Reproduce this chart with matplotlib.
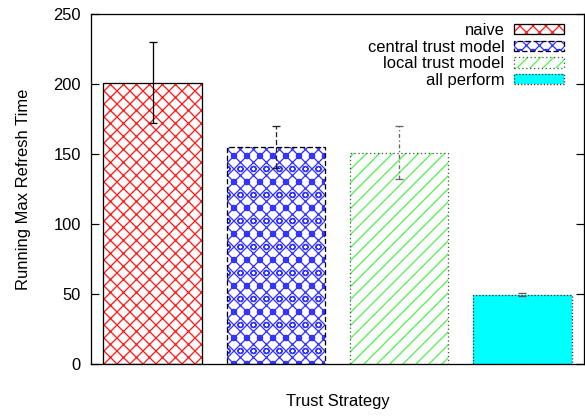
import matplotlib
matplotlib.use('Agg')
import matplotlib.pyplot as plt
from matplotlib.patches import Patch

# gnuplot-like bar chart: running max refresh time per trust strategy
DPI = 78
W, H = 585, 417


def pt(px):
    """pixels -> points at the figure dpi"""
    return px * 72.0 / DPI


strategies = ['naive', 'central trust model', 'local trust model', 'all perform']
refresh_mean = [201, 155, 151, 49.5]
refresh_err = [29, 15, 19, 1]

hatch_colors = ['#ff1a1a', '#3333ff', '#55ee55', '#00ffff']
hatches = ['xx', 'xxo', '//', None]
edge_styles = ['-', (0, (4, 2)), (0, (1, 2)), (0, (1, 1.5))]
edge_colors = ['black', 'black', '#336633', '#333333']
err_styles = ['-', (0, (4, 2)), (0, (3, 2, 1, 2)), (0, (1, 1))]
err_colors = ['black', '#222222', '#666666', '#555555']

plt.rcParams['font.family'] = ['Liberation Sans', 'DejaVu Sans']
plt.rcParams['font.size'] = pt(16.5)
plt.rcParams['hatch.linewidth'] = pt(1.3)

fig = plt.figure(figsize=(W / DPI, H / DPI), dpi=DPI)
ax = fig.add_axes([91 / W, 1 - 364 / H, (584 - 91) / W, (364 - 14) / H])

x = list(range(len(strategies)))
width = 0.8
handles = []
for i in x:
    solid = hatches[i] is None
    fill = ax.bar(i, refresh_mean[i], width,
                  color=hatch_colors[i] if solid else 'white',
                  edgecolor=hatch_colors[i], hatch=hatches[i], linewidth=0)
    border = ax.bar(i, refresh_mean[i], width, fill=False,
                    edgecolor=edge_colors[i], linestyle=edge_styles[i],
                    linewidth=pt(1.3))
    eb = ax.errorbar(i, refresh_mean[i], yerr=refresh_err[i], fmt='none',
                     ecolor=err_colors[i], elinewidth=pt(1.3),
                     capsize=pt(4), capthick=pt(1.3))
    eb[2][0].set_linestyle(err_styles[i])
    handles.append((
        Patch(facecolor=hatch_colors[i] if solid else 'white',
              edgecolor=hatch_colors[i], hatch=hatches[i], linewidth=0),
        Patch(fill=False, edgecolor=edge_colors[i], linestyle=edge_styles[i],
              linewidth=pt(1.3)),
    ))

ax.set_xlim(-0.5, 3.5)
ax.set_ylim(0, 250)
ax.set_yticks([0, 50, 100, 150, 200, 250])
ax.set_xticks([])
ax.tick_params(axis='y', direction='in', length=pt(8), width=pt(1.2),
               pad=pt(10), right=True)
for s in ax.spines.values():
    s.set_linewidth(pt(1.3))

ax.set_xlabel('Trust Strategy', labelpad=pt(30))
ax.set_ylabel('Running Max Refresh Time', labelpad=pt(22))

ax.legend(handles, strategies, loc='upper right', frameon=False,
          markerfirst=False, handlelength=3.0, handleheight=0.6,
          handletextpad=0.6, labelspacing=0.1, borderpad=0,
          borderaxespad=0.55, bbox_to_anchor=(1 - 11 / 493, 1))

fig.savefig('out.png', dpi=DPI)
